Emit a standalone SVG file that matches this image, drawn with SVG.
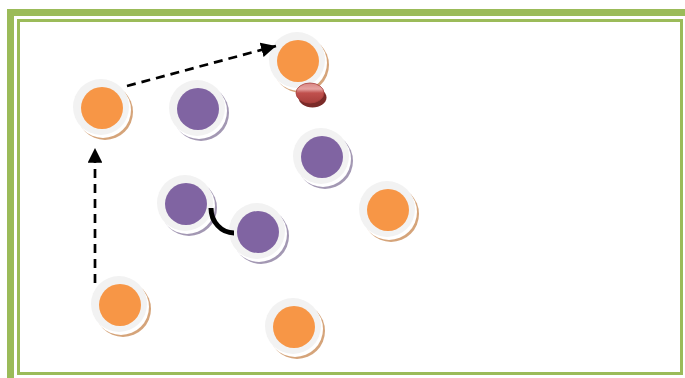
<svg xmlns="http://www.w3.org/2000/svg" width="685" height="378" viewBox="0 0 685 378">
<defs>
<style>
.ring{fill:#f2f2f2}
.gap{fill:#ffffff}
.oSh{fill:#d5a47a}
.pSh{fill:#a398b3}
.o{fill:#f79646}
.p{fill:#8064a2}
.dash{fill:none;stroke:#000;stroke-width:2.7;stroke-dasharray:9 6}
</style>
<marker id="ah" viewBox="0 0 10 10" refX="10" refY="5" markerWidth="5.5" markerHeight="5.5" orient="auto" markerUnits="strokeWidth">
<path d="M0,0 L10,5 L0,10 Z" fill="#000"/>
</marker>
<linearGradient id="pill" x1="0" y1="0" x2="0" y2="1">
<stop offset="0" stop-color="#d98683"/>
<stop offset="0.3" stop-color="#e6a3a1"/>
<stop offset="0.5" stop-color="#c0504d"/>
<stop offset="1" stop-color="#a83f3c"/>
</linearGradient>
</defs>
<rect width="685" height="378" fill="#fff"/>
<rect x="10.5" y="12.5" width="700" height="400" fill="none" stroke="#9bbb59" stroke-width="7"/>
<rect x="18.5" y="20.5" width="663" height="353" fill="none" stroke="#9bbb59" stroke-width="3"/>

<g id="n1"><circle class="oSh" cx="105" cy="112" r="28"/><circle class="gap" cx="103" cy="110" r="28"/><circle class="ring" cx="101" cy="107" r="28"/><circle class="o" cx="102" cy="108" r="21"/></g>
<g id="n2"><circle class="oSh" cx="301" cy="65" r="28"/><circle class="gap" cx="299" cy="63" r="28"/><circle class="ring" cx="297" cy="60" r="28"/><circle class="o" cx="298" cy="61" r="21"/></g>
<g id="n3"><circle class="pSh" cx="201" cy="113" r="28"/><circle class="gap" cx="199" cy="111" r="28"/><circle class="ring" cx="197" cy="108" r="28"/><circle class="p" cx="198" cy="109" r="21"/></g>
<g id="n4"><circle class="pSh" cx="325" cy="161" r="28"/><circle class="gap" cx="323" cy="159" r="28"/><circle class="ring" cx="321" cy="156" r="28"/><circle class="p" cx="322" cy="157" r="21"/></g>
<g id="n5"><circle class="pSh" cx="189" cy="208" r="28"/><circle class="gap" cx="187" cy="206" r="28"/><circle class="ring" cx="185" cy="203" r="28"/><circle class="p" cx="186" cy="204" r="21"/></g>
<g id="n6"><circle class="pSh" cx="261" cy="236" r="28"/><circle class="gap" cx="259" cy="234" r="28"/><circle class="ring" cx="257" cy="231" r="28"/><circle class="p" cx="258" cy="232" r="21"/></g>
<g id="n7"><circle class="oSh" cx="391" cy="214" r="28"/><circle class="gap" cx="389" cy="212" r="28"/><circle class="ring" cx="387" cy="209" r="28"/><circle class="o" cx="388" cy="210" r="21"/></g>
<g id="n8"><circle class="oSh" cx="123" cy="309" r="28"/><circle class="gap" cx="121" cy="307" r="28"/><circle class="ring" cx="119" cy="304" r="28"/><circle class="o" cx="120" cy="305" r="21"/></g>
<g id="n9"><circle class="oSh" cx="297" cy="331" r="28"/><circle class="gap" cx="295" cy="329" r="28"/><circle class="ring" cx="293" cy="326" r="28"/><circle class="o" cx="294" cy="327" r="21"/></g>

<g id="pill">
<ellipse cx="312.5" cy="97.5" rx="14" ry="10" fill="#7a2a28"/>
<ellipse cx="310" cy="93" rx="14" ry="10" fill="url(#pill)" stroke="#a83f3c" stroke-width="0.8"/>
</g>

<g id="connectors">
<path class="dash" d="M127,86 L276,46" marker-end="url(#ah)"/>
<path class="dash" d="M95,283 L95,148" marker-end="url(#ah)"/>
<path d="M211,208 A23,25 0 0 0 234,233" fill="none" stroke="#000" stroke-width="5"/>
</g>
</svg>
